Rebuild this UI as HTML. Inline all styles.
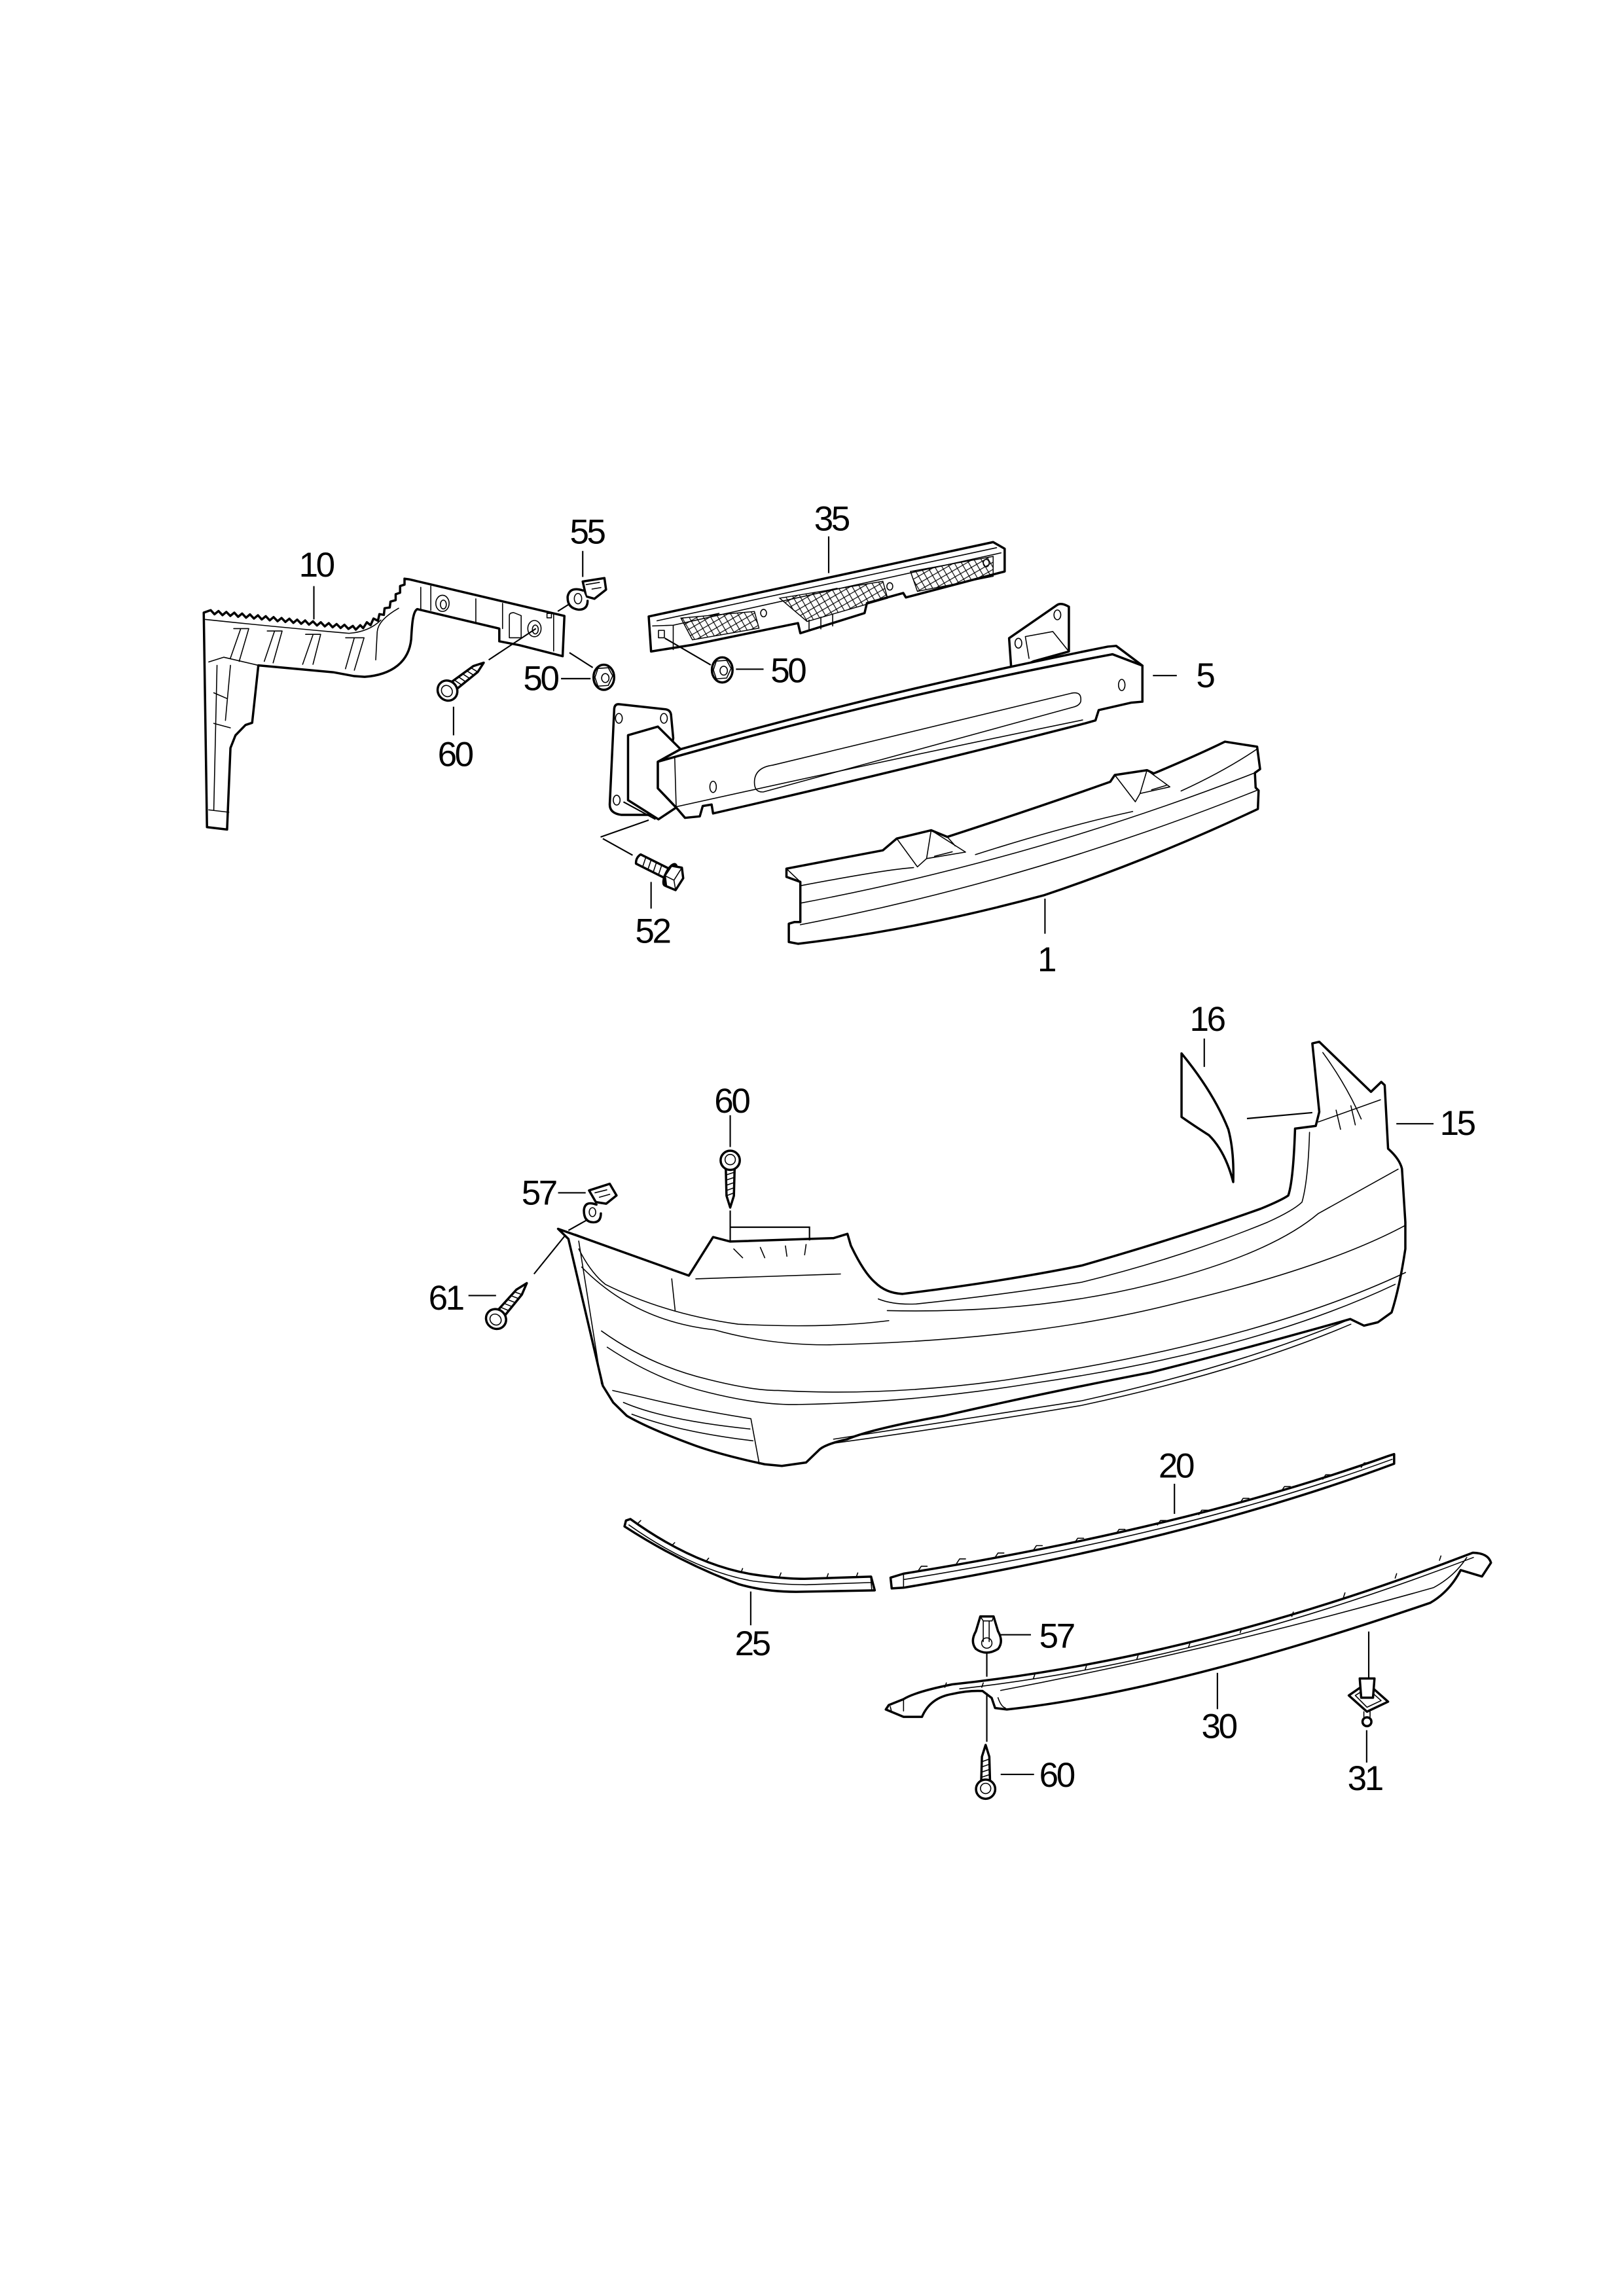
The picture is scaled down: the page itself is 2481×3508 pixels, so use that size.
<!DOCTYPE html>
<html><head><meta charset="utf-8"><style>
html,body{margin:0;padding:0;background:#fff;}
svg{display:block;}
.o{fill:#fff;stroke:#000;stroke-width:1.55;stroke-linejoin:round;stroke-linecap:round;}
.l{fill:none;stroke:#000;stroke-width:1.55;stroke-linejoin:round;stroke-linecap:round;}
.t{fill:none;stroke:#000;stroke-width:0.7;stroke-linecap:round;stroke-linejoin:round;}
.ld{fill:none;stroke:#000;stroke-width:0.95;}
text{font-family:"Liberation Sans",sans-serif;font-size:23.5px;letter-spacing:-1.5px;text-anchor:middle;fill:#000;}
</style></head><body>
<svg width="2481" height="3508" viewBox="0 0 1100 1555.3" xmlns="http://www.w3.org/2000/svg">
<defs>
<pattern id="mesh" width="6" height="6" patternUnits="userSpaceOnUse" patternTransform="rotate(15)">
<path d="M0,0 L6,6 M6,0 L0,6" stroke="#000" stroke-width="0.5"/>
</pattern>
</defs>
<rect width="1100" height="1555.3" fill="#fff"/>

<!-- ===== Part 10 bracket ===== -->
<path class="o" d="M138,415 L142.7,413.3 145.3,416.1 148,413.9 150.7,416.7 153.3,414.5 156,417.2 158.7,415 161.3,417.8 164,415.6 166.7,418.4 169.3,416.2 172,419 174.7,416.8 177.3,419.6 180,417.4 182.7,420.2 185.3,418 188,420.8 190.7,418.6 193.3,421.3 196,419.1 198.7,421.9 201.3,419.7 204,422.5 206.7,420.3 209.3,423.1 212,420.9 214.7,423.7 217.3,421.5 220,424.3 222.7,422.1 225.3,424.9 228,422.7 230.7,425.4 233.3,423.2 236,426 239,424 241,426.5 244,423.5 246,425.5 248.5,421.5 251,423.5 253,419 256,420.5 257,416 260,416.5 260.5,412 264,411.5 264.5,407.5 268,406.5 268,402.5 271,401.5 271,397 274,396 274,392 277,392.4 L382.3,417.2 L381.1,444.5 L351.7,437 L338.2,434.4 L338.2,425.8 L282.7,412.6 C279.5,414 279,424 278.5,433 C277,448 266,457 247,458.5 L240,458 L226,455.4 L175,450.7 L170.8,489.6 L166.3,491.1 L159.5,498.1 L156.1,506.7 L153.8,561.9 L140.2,560.3 Z"/>
<path class="t" d="M139.1,419.6 Q190,425 236.4,429 Q250,428 258,420 M141.4,448.4 L151.6,445.2 L175,450.7
M158.3,425.8 L168.5,425.8 L162,448 M163,426 L156,446
M181,427.4 L191.1,427.4 L185,449 M186,427.4 L179,448
M207,429.7 L217.2,429.7 L212,450 M212,430 L205,450
M234.1,432 L246.6,432 L240,454 M240,432 L234,453
M270,412 Q256,420 255.5,428 L254.5,447
M147,450.7 L144.8,548.6 M156.1,450.7 L152.7,488 M144.8,469.3 L153.8,473.2 M144.8,490 L156,493 M141.4,548.6 L155,550.2
M285,397.8 L285,413.4 M291.8,397 L291.8,413.4 M322.3,405.6 L322.3,421.1 M340.4,408.7 L340.4,425.8 M375,416 L375,441"/>
<ellipse class="t" cx="299.7" cy="408.7" rx="4.5" ry="5.5"/>
<ellipse class="t" cx="300.3" cy="409.5" rx="2" ry="3"/>
<path class="t" d="M345,417 Q345,415 348,415 L353,417 L353,432 L345,432 Z"/>
<ellipse class="t" cx="362" cy="425.8" rx="4.5" ry="5.5"/>
<ellipse class="t" cx="362.6" cy="426.4" rx="2" ry="3"/>
<rect class="t" x="370.5" y="415.5" width="3" height="3"/>

<!-- clip 55 -->
<path class="ld" d="M377.8,414.1 L392.5,404.8"/>
<path class="o" d="M394.7,393.9 L409.4,391.6 L410.5,399.4 L402.6,405.6 L397,404 Z"/>
<path class="t" d="M397,396 L406,394.5 M401,399 L407,398"/>
<path class="o" d="M395,400 Q386,397 384.5,404 Q384,412 392,413 Q398,413 398,407"/>
<ellipse class="t" cx="391.5" cy="405.5" rx="2.5" ry="3.5"/>

<!-- nut 50 left -->
<path class="ld" d="M385.7,442.1 L401.5,452.2"/>
<g transform="translate(409,458.8)">
<ellipse class="o" cx="0" cy="0" rx="7" ry="8.5"/>
<path class="t" d="M-4,-6 L3,-6.5 L6,-1 L3,5.5 L-4,6 L-6,0 Z"/>
<ellipse class="t" cx="1" cy="0.5" rx="2.5" ry="3"/>
</g>

<!-- screw 60 top -->
<path class="ld" d="M331,447 L363,425.8"/>
<g transform="translate(303.1,467.8) rotate(-37.6)">
<path class="o" d="M5,-3 L24,-2.5 L31,0 L24,2.5 L5,3 Z"/>
<path class="t" d="M8,-3.1 L10,3.1 M11.5,-3 L13.5,3 M15,-2.9 L17,2.9 M18.5,-2.8 L20.5,2.8 M22,-2.6 L24,2.6"/>
<ellipse class="o" cx="0" cy="0" rx="6.5" ry="7"/>
<ellipse class="t" cx="-0.5" cy="0" rx="3.5" ry="4"/>
</g>

<!-- ===== Part 35 ===== -->
<path class="o" d="M439.4,417.6 L672.7,367.2 L680.5,371.7 L680.5,387.1 L613.6,404.7 L611.8,401.7 L587.2,408.5 L585.6,415.3 L542.1,428.9 L540.5,422.1 L469,436.8 L441,441.3 Z"/>
<path fill="url(#mesh)" stroke="#000" stroke-width="0.65" d="M461.2,418.7 L511,414.2 L514.1,425.5 L469,433.4 Z"/>
<path fill="url(#mesh)" stroke="#000" stroke-width="0.65" d="M528.1,405.2 L598,393.8 L601.2,405.2 L546.7,421 Z"/>
<path fill="url(#mesh)" stroke="#000" stroke-width="0.65" d="M616.7,387.1 L672.7,376.9 L672.7,390.4 L621.4,400.6 Z"/>
<path class="t" d="M445,420.5 L675,371 M456,423.5 L678,374.5 M456,423.5 L456,440 M442,424 L456,423.5
M480,417 L487,415.5 M560,400 L567,398.5 M630,385 L637,383.5 M548,420 L548,427 M556,418 L556,426 M564,416 L564,424"/>
<ellipse class="t" cx="517.2" cy="415.3" rx="2" ry="2.5"/>
<ellipse class="t" cx="602.7" cy="397.2" rx="2" ry="2.5"/>
<ellipse class="t" cx="668" cy="381.4" rx="2" ry="2.5"/>
<rect class="t" x="446" y="427" width="4" height="5"/>

<!-- nut 50 right -->
<path class="ld" d="M450.3,432.3 L481.4,450.4"/>
<g transform="translate(489.2,453.8)">
<ellipse class="o" cx="0" cy="0" rx="7" ry="8.5"/>
<path class="t" d="M-4,-6 L3,-6.5 L6,-1 L3,5.5 L-4,6 L-6,0 Z"/>
<ellipse class="t" cx="1" cy="0.5" rx="2.5" ry="3"/>
</g>

<!-- ===== Part 5 beam ===== -->
<path class="o" d="M419,477 L451,480.5 Q454,481 454.5,484 L456,500 L447,552 L421,552 Q413,551 413,545 L416,481 Q416,477 419,477 Z"/>
<ellipse class="t" cx="419.2" cy="486.6" rx="2.3" ry="3.3"/>
<ellipse class="t" cx="449.7" cy="486.6" rx="2.3" ry="3.3"/>
<ellipse class="t" cx="417.7" cy="542" rx="2.3" ry="3.3"/>
<path class="o" d="M685.1,454.9 L683.5,432.3 L716.2,409.7 Q719,408 724,411 L724,441.3 L700,448 Z"/>
<ellipse class="t" cx="689.8" cy="435.7" rx="2.3" ry="3.3"/>
<ellipse class="t" cx="716.2" cy="416.5" rx="2.3" ry="3.3"/>
<path class="t" d="M694.5,431.2 L713.1,427.8 L724,441.3 M694.5,431.2 L697,446"/>
<path class="o" d="M425.4,498 L445.6,492.2 L461,507.5 L445.6,516 L445.6,534 L458,547 L446,555 L425.4,542 Z"/>
<path class="o" d="M461,507.5 Q600,468 750.4,438 L756,437.5 L773.8,450.9 L753.5,443.2 Q600,472 445.6,516 Z"/>
<path class="o" d="M445.6,516 Q600,472 753.5,443.2 L773.8,450.9 L773.8,475.3 L766,476 L744.2,481 L742,488 L735,490 Q610,522 483,551 L482,545 L476,546 L474,553 L464,554 L458,547 L445.6,534 Z"/>
<path class="t" d="M458,546.5 Q600,515 733.3,487.7 M457,512.5 L458,546.5 M445.6,516 L457,512.5"/>
<path class="t" d="M511,530 Q511,520 523.4,518.3 L725.6,469.6 Q733,468 732,475.3 Q731,478 727,479 L517.2,536.4 Q511,537 511,530 Z"/>
<ellipse class="t" cx="483" cy="533" rx="2.2" ry="3.8"/>
<ellipse class="t" cx="759.8" cy="464" rx="2.2" ry="3.8"/>
<path class="ld" d="M422.3,543.2 L444,555 M439.4,555.5 L406.8,567 M408.3,568.1 L428.5,579.3"/>

<!-- bolt 52 -->
<g transform="translate(456.5,594) rotate(206.6)">
<path class="o" d="M5,-3.5 L27,-3.5 Q29,0 27,3.5 L5,3.5 Z"/>
<path class="t" d="M10,-3.5 L11,3.5 M14,-3.5 L15,3.5 M18,-3.5 L19,3.5 M22,-3.5 L23,3.5"/>
<ellipse class="o" cx="3" cy="0" rx="3" ry="8"/>
<path class="o" d="M-5,-7.5 L2,-8 L6,-2 L5,6 L-2,8 L-6,2 Z"/>
<path class="t" d="M-5,-7.5 L-1,-2 L5,-2 M-1,-2 L-2,8"/>
</g>

<!-- ===== Part 1 ===== -->
<path class="o" d="M532.7,588.4 L598,576 L607.4,568 L630.7,562.4 L641.6,566.9 Q700,548 752,529.6 L755.1,525 L776.9,521.7 L781.5,523.9 Q810,512 829.7,502.4 L851.5,505.8 L853.5,521 L850,523.5 L850.5,533.5 L852.5,535.5 L852,548 Q780,582 706.9,606.5 Q620,630 540.5,639.3 L534.3,638.1 L534.3,625.7 L538,624.6 L542.1,624.6 L542.1,597.4 L532.7,594 Z"/>
<path class="t" d="M542.1,600 Q600,589 618.8,587.7 M660.7,578.9 Q720,560 767.2,549.7 M800,535.8 Q830,522 852,507
M542.1,611.8 Q700,582 850,523.5
M542.1,626.4 Q700,596 851,535.5
M607.4,568 L621.4,587.2 M630.7,562.4 L654,577.2 L627.6,581.6 L621.4,587.2 M627.6,581.6 L630.7,562.4 M641.6,566.9 L647,573 M633,580 L645,577
M755.1,525 L769,543.1 M776.9,521.7 L792.4,533 L772.2,537.5 L769,543.1 M772.2,537.5 L776.9,521.7 M780,535 L790,532
M542.1,597.4 L532.7,588.4"/>

<!-- ===== Bumper 15 ===== -->
<path class="o" d="M378,832.4 L466.6,864.1 L483,838 L494.6,841 L564.6,838.7 L574,835.8 L576.3,843.7 Q585,862 592.6,868.6 Q600,876 611.3,876.5 Q680,868 732.6,857.3 Q800,838 853.9,818.8 Q868,813 872.6,809.8 Q876,800 877.2,764.5 L891.2,762.7 L893.6,753.2 L888.9,706.8 L893.6,705.7 L928.6,739.6 L935.6,732.9 L937.9,735.1 L940.2,778.1 Q948,785 949.6,791.7 L951.9,827.9 L951.9,846 Q948,872 942.6,889 L933.3,895.7 L923.9,898 L914.6,893.5 Q850,912 779.3,929.7 Q700,945 639.3,959.1 Q590,968 574,974.9 Q560,978 555.3,981.7 L546,990.7 L529.6,993 L518,991.9 Q490,986 471.3,979.4 Q440,968 424.6,959.1 L415.3,950 L408.3,938.7 L385,839.2 Z"/>
<path class="t" d="M389.6,836 L459.6,862 M471.3,866.3 L569.3,863 M455,866.3 L457.3,887.8
M392,840.7 L407.4,937.5
M594.9,879.9 Q605,884 620.6,883.3 Q680,877 732.6,868.6 Q800,852 858.6,827.9 Q876,820 881.9,814.3 Q886,800 887,767
M601,887.8 Q700,890 780,870 Q860,850 893,822 L947,792
M392,846 Q400,862 410,870 Q450,890 500,897 Q560,900 602,894.6
M394,858.3 Q430,895 483.8,900.8 Q520,911 560,911 Q700,908 800,882 Q900,858 952,830
M407.4,901.6 Q440,925 480,934.5 Q510,942 527,941.9 Q600,946 680,935 Q850,910 952,862
M411.3,912.6 Q445,935 480,943.3 Q515,952 541,951.4 Q620,950 700,937 Q850,915 945,870
M415,941.9 L434.2,946.3 Q470,955 508.6,961 L514.3,991.7 M422.3,950 Q450,962 508,968 M428,958 Q460,970 510,976
M564.6,974.9 Q650,962 732.6,948.9 Q840,925 914.6,893.5
M562,978 Q650,966 732.6,952 Q840,929 915,897
M893,760 L935,745 M896,713 Q912,735 922,758 M905,752 L908,765 M915,749 L918,762
M497,846 L503,852 M515,845 L518,852 M532,844 L533,851 M546,843 L545,850"/>

<!-- part 16 -->
<path class="o" d="M800.3,713.6 Q822,740 832,765 Q836,780 835.3,800.7 Q830,780 818.9,769 Q808,762 800.3,756.6 Z"/>
<path class="ld" d="M844.6,757.7 L888.9,753.7"/>

<!-- screw 60 mid -->
<path class="ld" d="M494.6,820 L494.6,841 M494.6,831.3 L548.3,831.3 L548.3,840.3"/>
<g transform="translate(494.6,786) rotate(90)">
<path class="o" d="M5,-3 L24,-2.5 L32,0 L24,2.5 L5,3 Z"/>
<path class="t" d="M8,-3.1 L10,3.1 M11.5,-3 L13.5,3 M15,-2.9 L17,2.9 M18.5,-2.8 L20.5,2.8 M22,-2.6 L24,2.6"/>
<ellipse class="o" cx="0" cy="0" rx="6.5" ry="6.5"/>
<ellipse class="t" cx="-0.5" cy="0" rx="3.5" ry="3.5"/>
</g>

<!-- clip 57 mid -->
<path class="ld" d="M399,825.6 L385,833.5"/>
<path class="o" d="M399,806.4 L413,801.9 L417.6,809.8 L410.6,815.4 L403.6,814.3 Z"/>
<path class="t" d="M403,808 L411,806 M406,811 L413,809"/>
<path class="o" d="M404,816 Q396,813 395.5,820 Q395.5,828 402,828 Q407,828 407,822"/>
<ellipse class="t" cx="401.3" cy="821.1" rx="2.2" ry="3"/>

<!-- screw 61 -->
<path class="ld" d="M361.7,863 L382.7,837"/>
<g transform="translate(336,893.5) rotate(-49.4)">
<path class="o" d="M5,-3 L24,-2.5 L32,0 L24,2.5 L5,3 Z"/>
<path class="t" d="M8,-3.1 L10,3.1 M11.5,-3 L13.5,3 M15,-2.9 L17,2.9 M18.5,-2.8 L20.5,2.8 M22,-2.6 L24,2.6"/>
<ellipse class="o" cx="0" cy="0" rx="6.5" ry="7"/>
<ellipse class="t" cx="-0.5" cy="0" rx="3.5" ry="4"/>
</g>

<!-- ===== Part 20 ===== -->
<path class="o" d="M603.2,1068.7 L612,1066 Q804,1035 940,986.4 L944.3,985 L944.3,991.5 Q806,1043 612,1075.5 L604,1076 Z"/>
<path class="t" d="M612,1066 L612,1075.5 M612,1070 Q805,1039 943,988.5
M622,1064 L624,1061 L628,1061 M648,1059 L650,1056 L654,1056 M674,1055 L676,1052 L680,1052 M700,1050 L702,1047 L706,1047 M728,1045 L730,1042 L734,1042 M756,1039 L758,1036 L762,1036 M784,1033 L786,1030 L790,1030 M812,1026 L814,1023 L818,1023 M840,1018 L842,1015 L846,1015 M868,1010 L870,1007 L874,1007 M896,1002 L898,999 L902,999 M922,994 L924,991 L928,991"/>

<!-- ===== Part 25 ===== -->
<path class="o" d="M424,1030 L427,1029 Q470,1060 510,1066.5 Q530,1069.5 545,1069.5 L590,1068 L592.5,1077.3 L545,1078.2 Q520,1079 500,1073 Q460,1058 423,1034 Z"/>
<path class="t" d="M426,1033 Q470,1064 510,1071 Q530,1073.5 546,1073.5 L590,1072 M589.7,1068 L590.5,1077
M432,1032 L434,1030 M455,1047 L457,1045 M478,1058 L480,1055.5 M502,1065 L503,1062.5 M528,1068 L529,1065.5 M560,1068.8 L561,1066 M580,1068.2 L581,1065.5"/>

<!-- ===== Part 30 ===== -->
<path class="o" d="M600,1158 L612,1163 L624.5,1163 Q630,1150 645,1147.5 Q656,1145 665.5,1145.5 L671.7,1150.2 L674,1157 L682,1158 Q792.5,1146 968.9,1085.7 Q982,1078 989.4,1063.6 L1003.8,1067.9 L1009.9,1058.6 Q1008,1052 997.6,1051.8 Q813,1123 645,1141 Q620,1146 612,1151 L602,1155 Z"/>
<path class="t" d="M998,1055 Q813,1126 650,1144 M677.8,1145.1 Q820,1118 970.9,1075.5 Q985,1068 993.5,1055
M612,1151 L612,1159 M603,1156 L604,1160
M640,1143 L641,1140 M665,1143 L666,1140 M700,1137 L701,1134 M735,1131 L736,1128 M770,1124 L771,1121 M805,1116 L806,1113 M840,1106 L841,1103 M875,1095 L876,1092 M910,1082 L911,1079 M945,1069 L946,1066 M975,1057 L976,1054
M676,1150 Q678,1156 681,1157"/>

<!-- clip 57 bottom -->
<path class="ld" d="M668.4,1119.6 L668.4,1135.8"/>
<path class="o" d="M664,1095 L673,1095 L676,1105 Q680,1112 676,1117 Q668,1122 661,1117 Q657,1112 661,1105 Z"/>
<path class="t" d="M664,1095 L666,1098 L672,1098 L673,1095 M666,1098 L666,1112 M670,1098 L670,1112"/>
<ellipse class="t" cx="668.4" cy="1113" rx="3.5" ry="3.5"/>

<!-- screw 60 bottom -->
<path class="ld" d="M668.4,1146.8 L668.4,1179.9"/>
<g transform="translate(667.6,1212) rotate(-90)">
<path class="o" d="M5,-3 L22,-2.5 L30,0 L22,2.5 L5,3 Z"/>
<path class="t" d="M8,-3.1 L10,3.1 M11.5,-3 L13.5,3 M15,-2.9 L17,2.9 M18.5,-2.8 L20.5,2.8"/>
<ellipse class="o" cx="0" cy="0" rx="6.5" ry="6.5"/>
<ellipse class="t" cx="0.5" cy="0" rx="3.5" ry="3.5"/>
</g>

<!-- clip 31 -->
<path class="ld" d="M927.1,1105.2 L927.1,1140 M925.7,1172 L925.7,1194"/>
<path class="o" d="M913.6,1148.5 L925.9,1140 L940.2,1152.7 L925.9,1159.5 Z"/>
<path class="t" d="M918,1148.5 L925.9,1143.5 L935.5,1152 L925.9,1156.5 Z"/>
<path class="o" d="M921,1137 L931,1137 L930,1150 L922,1150 Z"/>
<path class="t" d="M923.8,1159.5 L923.8,1163 M928,1159.5 L928,1163"/>
<circle class="o" cx="925.9" cy="1166.3" r="3"/>

<!-- ===== Leaders and labels ===== -->
<path class="ld" d="M212.6,397 L212.6,419.6
M394.7,373.2 L394.7,390.8
M561.3,363.3 L561.3,388.2
M380,459.7 L400,459.7
M498.5,453.3 L517.2,453.3
M307.2,478.7 L307.2,498.1
M780.9,457.6 L797.1,457.6
M441,597.4 L441,615.5
M707.8,608.7 L707.8,632.5
M815.7,703.5 L815.7,722.7
M945.8,761.2 L971,761.2
M494.6,755.5 L494.6,777
M378,808 L396.7,808
M317.3,877.6 L336,877.6
M795.5,1005.1 L795.5,1025.5
M508.5,1078.1 L508.5,1101
M677.8,1107.4 L698.3,1107.4
M824.6,1133.2 L824.6,1157.8
M677.8,1202 L700.4,1202"/>

<text x="214" y="390.7">10</text>
<text x="397.5" y="368.1">55</text>
<text x="563" y="359.3">35</text>
<text x="366" y="467.6">50</text>
<text x="533.5" y="462.2">50</text>
<text x="308" y="518.9">60</text>
<text x="816" y="465.6">5</text>
<text x="441.8" y="638.6">52</text>
<text x="708.5" y="657.9">1</text>
<text x="817.4" y="698.3">16</text>
<text x="986.8" y="768.8">15</text>
<text x="495.4" y="753.7">60</text>
<text x="364.8" y="815.9">57</text>
<text x="301.8" y="887.2">61</text>
<text x="796.3" y="1000.8">20</text>
<text x="509.3" y="1121.3">25</text>
<text x="715.5" y="1116.2">57</text>
<text x="825.4" y="1177.3">30</text>
<text x="715.5" y="1210.4">60</text>
<text x="924.3" y="1212.6">31</text>
</svg>
</body></html>
